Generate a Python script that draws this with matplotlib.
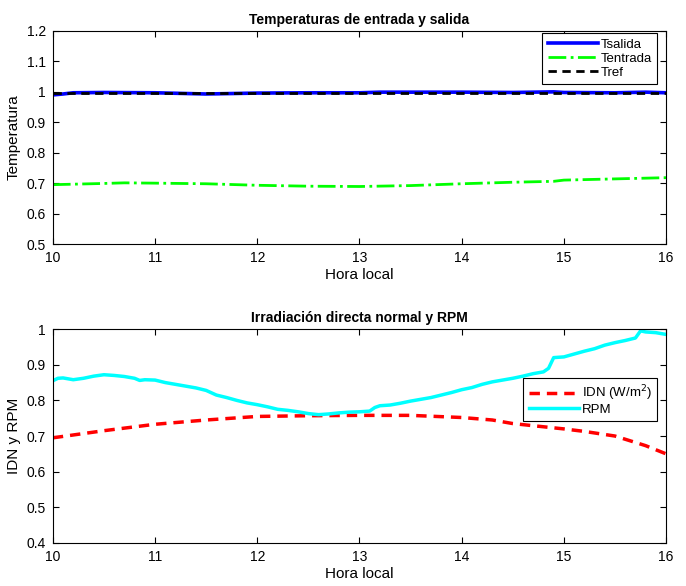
import matplotlib
matplotlib.use("Agg")
import matplotlib.pyplot as plt
from matplotlib.ticker import FormatStrFormatter

plt.rcParams.update({"font.family": ["Liberation Sans", "DejaVu Sans"], "font.size": 9,
                     "xtick.direction": "in", "ytick.direction": "in",
                     "xtick.top": True, "ytick.right": True,
                     "axes.linewidth": 0.8})

# panel superior
t_sal = [10.0, 10.1, 10.2, 10.5, 11.0, 11.5, 12.0, 12.5, 13.0, 13.2, 13.5, 14.0, 14.5, 14.9, 15.0, 15.5, 15.8, 16.0]
tsalida = [0.99, 0.993, 0.997, 0.998, 0.997, 0.993, 0.996, 0.997, 0.997, 0.999, 0.999, 0.999, 0.998, 1.0, 0.998, 0.997, 0.999, 0.997]
t_ent = [10.0, 10.5, 10.7, 11.0, 11.5, 12.0, 12.5, 13.0, 13.5, 14.0, 14.5, 14.9, 15.0, 15.5, 16.0]
tentrada = [0.695, 0.699, 0.701, 0.70, 0.698, 0.693, 0.69, 0.689, 0.692, 0.698, 0.703, 0.706, 0.71, 0.714, 0.718]
t_ref = [10.0, 16.0]
tref = [0.997, 0.997]

# panel inferior
t_rpm = [10.0, 10.05, 10.1, 10.2, 10.3, 10.4, 10.5, 10.6, 10.7, 10.8, 10.85, 10.9, 11.0,
         11.1, 11.2, 11.3, 11.4, 11.5, 11.6, 11.7, 11.8, 11.9, 12.0, 12.1, 12.2, 12.3,
         12.4, 12.5, 12.6, 12.7, 12.8, 12.9, 13.0, 13.1, 13.15, 13.2, 13.3, 13.4, 13.5,
         13.6, 13.7, 13.8, 13.9, 14.0, 14.1, 14.2, 14.3, 14.4, 14.5, 14.6, 14.7, 14.8,
         14.85, 14.9, 15.0, 15.1, 15.2, 15.3, 15.4, 15.5, 15.6, 15.7, 15.75, 15.8, 15.9, 16.0]
rpm = [0.855, 0.862, 0.863, 0.858, 0.862, 0.868, 0.872, 0.870, 0.867, 0.862, 0.856, 0.858, 0.857,
       0.850, 0.845, 0.840, 0.835, 0.828, 0.815, 0.808, 0.800, 0.793, 0.788, 0.782, 0.775, 0.772,
       0.768, 0.763, 0.760, 0.762, 0.765, 0.767, 0.768, 0.770, 0.780, 0.785, 0.787, 0.792, 0.798,
       0.803, 0.808, 0.815, 0.822, 0.830, 0.836, 0.845, 0.852, 0.857, 0.862, 0.868, 0.875, 0.880,
       0.890, 0.920, 0.922, 0.930, 0.938, 0.945, 0.955, 0.962, 0.968, 0.975, 0.995, 0.992, 0.990, 0.985]
t_idn = [10.0, 10.5, 11.0, 11.5, 12.0, 12.5, 13.0, 13.5, 14.0, 14.3, 14.5, 15.0, 15.2, 15.5, 15.8, 16.0]
idn = [0.695, 0.715, 0.733, 0.745, 0.755, 0.757, 0.758, 0.758, 0.752, 0.745, 0.735, 0.72, 0.713, 0.70, 0.673, 0.65]

fig = plt.figure(figsize=(6.86, 5.86), dpi=100)
ax1 = fig.add_axes([0.077, 0.5836, 0.894, 0.3635])
ax2 = fig.add_axes([0.077, 0.0734, 0.894, 0.365])

ax1.plot(t_sal, tsalida, color="#0000ff", lw=2.6, label="Tsalida")
ax1.plot(t_ent, tentrada, color="#00ff00", lw=2, ls="-.", label="Tentrada")
ax1.plot(t_ref, tref, color="black", lw=2, ls=(0, (3, 2)), label="Tref")
ax1.set_xlim(10, 16); ax1.set_ylim(0.5, 1.2)
ax1.set_title("Temperaturas de entrada y salida", fontweight="bold", fontsize=10, pad=5)
ax1.set_xlabel("Hora local", fontsize=11, labelpad=2); ax1.set_ylabel("Temperatura", fontsize=11, labelpad=4)
leg1 = ax1.legend(loc="upper right", bbox_to_anchor=(0.985, 0.99), handlelength=3.8,
                  fancybox=False, edgecolor="black", framealpha=1, borderaxespad=0,
                  labelspacing=0.15, handletextpad=0.2, fontsize=9.5)
leg1.get_frame().set_linewidth(0.8)

ax2.plot(t_idn, idn, color="#ff0000", lw=2.5, ls=(0, (3, 2)), label="IDN (W/m$^2$)")
ax2.plot(t_rpm, rpm, color="#00ffff", lw=2.5, label="RPM")
ax2.set_xlim(10, 16); ax2.set_ylim(0.4, 1.0)
ax2.set_title("Irradiación directa normal y RPM", fontweight="bold", fontsize=10, pad=5)
ax2.set_xlabel("Hora local", fontsize=11, labelpad=2); ax2.set_ylabel("IDN y RPM", fontsize=11, labelpad=4)
leg2 = ax2.legend(loc="upper right", bbox_to_anchor=(0.985, 0.771), handlelength=3.8,
                  fancybox=False, edgecolor="black", framealpha=1, borderaxespad=0,
                  labelspacing=0.05, handletextpad=0.2, fontsize=9.5)
leg2.get_frame().set_linewidth(0.8)

for ax in (ax1, ax2):
    ax.yaxis.set_major_formatter(FormatStrFormatter("%g"))
    ax.tick_params(labelsize=10, length=4, pad=5)

fig.savefig("out.png", dpi=100)
